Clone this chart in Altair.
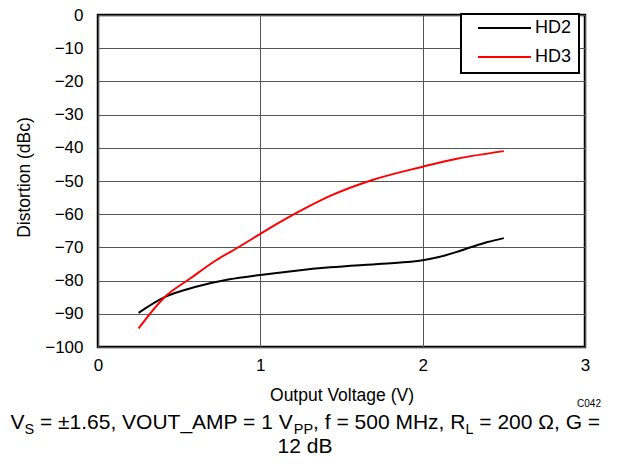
import altair as alt
import pandas as pd

# HD2 (black)
hd2_x = [0.25, 0.41, 0.61, 0.81, 1.0, 1.22, 1.43, 1.75, 2.0, 2.1, 2.2, 2.3, 2.4, 2.5]
hd2_y = [-89.7, -85.0, -81.8, -79.6, -78.3, -77.0, -76.0, -74.9, -73.9, -72.9, -71.5, -69.9, -68.4, -67.2]
# HD3 (red)
hd3_x = [0.25, 0.41, 0.57, 0.73, 0.87, 1.0, 1.22, 1.43, 1.69, 2.0, 2.21, 2.5]
hd3_y = [-94.4, -85.0, -79.3, -73.8, -69.8, -65.9, -59.7, -54.5, -49.7, -45.7, -43.3, -41.0]

series = ["HD2", "HD3"]
colors = ["#000000", "#ff0000"]

x_ticks = [0, 1, 2, 3]
y_ticks = list(range(-100, 1, 10))

rows = []
for x, y in zip(hd2_x, hd2_y):
    rows.append({"v": x, "d": y, "s": "HD2"})
for x, y in zip(hd3_x, hd3_y):
    rows.append({"v": x, "d": y, "s": "HD3"})
df = pd.DataFrame(rows)

FONT = "Liberation Sans"

lines = alt.Chart(df).mark_line(interpolate="monotone", strokeWidth=2).encode(
    x=alt.X("v:Q", scale=alt.Scale(domain=[0, 3], nice=False),
            axis=alt.Axis(values=x_ticks, title="Output Voltage (V)", format="d",
                          titleX=243.5, titleY=53, titleBaseline="alphabetic",
                          labelPadding=10, labelFlush=False)),
    y=alt.Y("d:Q", scale=alt.Scale(domain=[-100, 0], nice=False),
            axis=alt.Axis(values=y_ticks, title="Distortion (dBc)",
                          titleX=-73.5, titleY=162, titleAngle=-90,
                          titleBaseline="middle", titleAlign="center",
                          labelPadding=15, labelFlush=False)),
    color=alt.Color("s:N", scale=alt.Scale(domain=series, range=colors),
                    legend=alt.Legend(title=None, orient="none", legendX=363, legendY=-1,
                                      symbolType="stroke", symbolSize=2809,
                                      symbolStrokeWidth=2, clipHeight=14,
                                      rowPadding=11, padding=7, symbolOffset=9,
                                      labelOffset=3, labelFontSize=18, labelFont=FONT,
                                      labelExpr="datum.label + '\u00a0\u00a0'",
                                      fillColor="white", strokeColor="black")),
)

# caption segments: text, font size, page x, page y
cap_text = ["V", "S", "= \u00b11.65, VOUT_AMP = 1 V", "PP", ", f = 500 MHz, R", "L",
            "= 200 \u03a9, G =", "12 dB", "C042"]
cap_size = [21, 14.5, 21, 14.5, 21, 14.5, 21, 21, 10]
cap_x = [10.4, 24.4, 39.9, 293.8, 313.1, 465.4, 479.3, 305, 589]
cap_y = [429, 433.5, 429, 433.5, 429, 433.5, 429, 453, 407]
cap_align = ["left"] * 7 + ["center", "center"]

texts = []
for t, s, x, y, a in zip(cap_text, cap_size, cap_x, cap_y, cap_align):
    texts.append(
        alt.Chart(pd.DataFrame({"t": [t]})).mark_text(
            font=FONT, fontSize=s, align=a, baseline="alphabetic", color="black"
        ).encode(text="t:N", x=alt.value(x - 98), y=alt.value(y - 15))
    )

chart = alt.layer(lines, *texts).properties(
    width=487, height=332,
    autosize=alt.AutoSizeParams(type="none"),
    padding={"left": 90, "top": 7, "right": 24, "bottom": 109},
).configure_view(
    stroke="black", strokeWidth=2.5
).configure_axis(
    grid=True, gridColor="#555555", gridWidth=1, gridOpacity=1,
    domain=False, ticks=False,
    labelFont=FONT, labelFontSize=17, labelColor="black",
    titleFont=FONT, titleFontSize=17.5, titleFontWeight="normal", titleColor="black",
).configure_legend(
    strokeWidth=2
)

chart.save("out.html", embed_options={"renderer": "svg", "actions": False})
